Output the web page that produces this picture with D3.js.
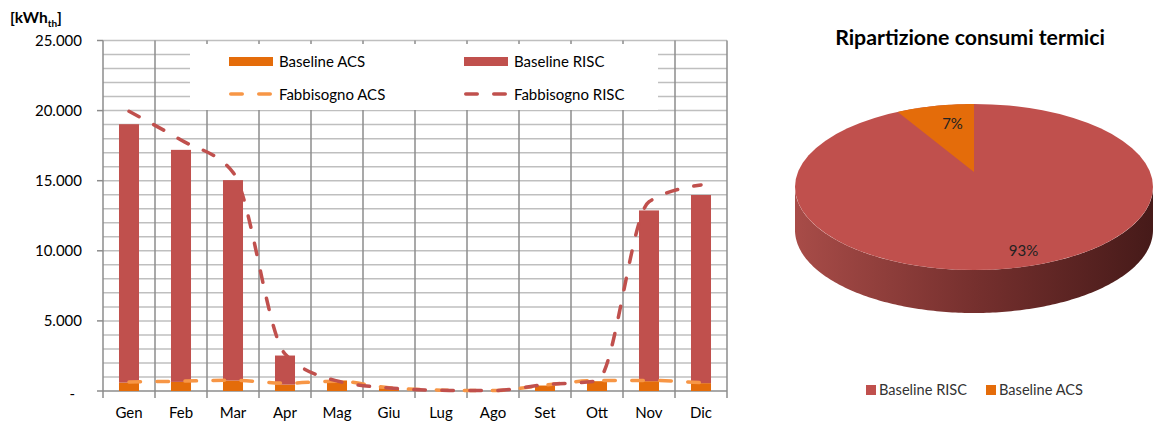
<!DOCTYPE html>
<html>
<head>
<meta charset="utf-8">
<script src="https://cdn.jsdelivr.net/npm/d3@7"></script>
<style>
  body { margin: 0; background: #fff; }
  svg { display: block; font-family: Lato, "Open Sans", sans-serif; }
</style>
</head>
<body>
<svg id="chart" width="1156" height="424"></svg>
<script>
// Monthly thermal consumption (kWh_th)
const months = ["Gen", "Feb", "Mar", "Apr", "Mag", "Giu", "Lug", "Ago", "Set", "Ott", "Nov", "Dic"];
const baselineACS  = [600, 650, 750, 460, 750, 200, 0, 0, 390, 700, 700, 560];
const baselineRISC = [18430, 16550, 14290, 2070, 0, 0, 0, 0, 0, 0, 12180, 13420];
const fabbisognoACS  = [640, 700, 770, 560, 700, 230, 60, 30, 420, 750, 750, 590];
const fabbisognoRISC = [19950, 17900, 15600, 2650, 720, 220, 50, 30, 450, 720, 13500, 14700];
const yTicks = [0, 5000, 10000, 15000, 20000, 25000];

// Share of annual consumption (%)
const pieLabels = ["Baseline RISC", "Baseline ACS"];
const pieValues = [93, 7];

const colACS = "#E46C0A", colRISC = "#C0504D", colFabACS = "#F79646", colFabRISC = "#C0504D";

const svg = d3.select("#chart");

// ---------- column chart ----------
const plot = { left: 103, right: 727, top: 40.5, bottom: 391 };
const x = d3.scaleBand().domain(months).range([plot.left, plot.right]);
const y = d3.scaleLinear().domain([0, 25000]).range([plot.bottom, plot.top]);
const barW = x.bandwidth() * 0.385;

const itFmt = d3.formatLocale({ decimal: ",", thousands: ".", grouping: [3], currency: ["€", ""] }).format(",");

const grid = svg.append("g");
// horizontal grid every 1.000
grid.selectAll("line.h").data(d3.range(1000, 25001, 1000)).join("line")
  .attr("x1", plot.left).attr("x2", plot.right)
  .attr("y1", d => y(d)).attr("y2", d => y(d))
  .attr("stroke", "#BFBFBF").attr("stroke-width", 1.5);
// vertical grid at category boundaries (continuing as tick marks)
const bounds = months.map(m => x(m)).concat([plot.right]);
grid.selectAll("line.v").data(bounds).join("line")
  .attr("x1", d => d).attr("x2", d => d)
  .attr("y1", plot.top).attr("y2", plot.bottom + 7)
  .attr("stroke", "#8C8C8C").attr("stroke-width", 1.5);
// axes
grid.append("line").attr("x1", plot.left).attr("x2", plot.right)
  .attr("y1", plot.bottom).attr("y2", plot.bottom).attr("stroke", "#8C8C8C").attr("stroke-width", 1.5);
grid.selectAll("line.yt").data(yTicks).join("line")
  .attr("x1", plot.left - 6).attr("x2", plot.left)
  .attr("y1", d => y(d)).attr("y2", d => y(d))
  .attr("stroke", "#8C8C8C").attr("stroke-width", 1.5);

// y tick labels
svg.append("g").selectAll("text").data(yTicks).join("text")
  .attr("x", d => d === 0 ? 75 : 82)
  .attr("y", d => y(d)).attr("dy", d => d === 0 ? "0.55em" : "0.36em")
  .attr("text-anchor", "end").attr("font-size", 15).attr("fill", "#000")
  .text(d => d === 0 ? "-" : itFmt(d));

// y title
const yt = svg.append("text").attr("x", 10).attr("y", 23).attr("font-size", 15.5).attr("font-weight", "bold");
yt.append("tspan").text("[kWh");
yt.append("tspan").attr("font-size", 10).attr("dy", 4).text("th");
yt.append("tspan").attr("dy", -4).text("]");

// x labels
svg.append("g").selectAll("text").data(months).join("text")
  .attr("x", d => x(d) + x.bandwidth() / 2).attr("y", 418)
  .attr("text-anchor", "middle").attr("font-size", 15).text(d => d);

// stacked columns
const rows = months.map((m, i) => ({ month: m, acs: baselineACS[i], risc: baselineRISC[i] }));
const stack = d3.stack().keys(["acs", "risc"])(rows);
const barCol = { acs: colACS, risc: colRISC };
svg.append("g").selectAll("g").data(stack).join("g")
  .attr("fill", s => barCol[s.key])
  .selectAll("rect").data(s => s).join("rect")
  .attr("x", d => x(d.data.month) + (x.bandwidth() - barW) / 2)
  .attr("width", barW)
  .attr("y", d => y(d[1]))
  .attr("height", d => y(d[0]) - y(d[1]));

// smoothed dashed lines
const line = d3.line()
  .x((d, i) => x(months[i]) + x.bandwidth() / 2)
  .y(d => y(d))
  .curve(d3.curveMonotoneX);
const dash = "11.5 16.5";
[[fabbisognoACS, colFabACS], [fabbisognoRISC, colFabRISC]].forEach(([vals, c]) => {
  svg.append("path").attr("d", line(vals)).attr("fill", "none")
    .attr("stroke", c).attr("stroke-width", 3.5)
    .attr("stroke-linecap", "round").attr("stroke-dasharray", dash);
});

// legend
const lg = svg.append("g");
lg.append("rect").attr("x", 190).attr("y", 44).attr("width", 468).attr("height", 66).attr("fill", "#fff");
const legendItems = [
  { label: "Baseline ACS", type: "bar", color: colACS, x: 229, y: 61.5 },
  { label: "Baseline RISC", type: "bar", color: colRISC, x: 464, y: 61.5 },
  { label: "Fabbisogno ACS", type: "line", color: colFabACS, x: 229, y: 94 },
  { label: "Fabbisogno RISC", type: "line", color: colFabRISC, x: 464, y: 94 }
];
legendItems.forEach(it => {
  if (it.type === "bar") {
    lg.append("rect").attr("x", it.x).attr("y", it.y - 4.5).attr("width", 44).attr("height", 9).attr("fill", it.color);
  } else {
    lg.append("line").attr("x1", it.x + 1.75).attr("x2", it.x + 44).attr("y1", it.y).attr("y2", it.y)
      .attr("stroke", it.color).attr("stroke-width", 3.5).attr("stroke-linecap", "round")
      .attr("stroke-dasharray", dash);
  }
  lg.append("text").attr("x", it.x + 50).attr("y", it.y + 5.5).attr("font-size", 15).text(it.label);
});

// ---------- 3D pie ----------
const pc = { cx: 974, cy: 187, rx: 179, ry: 83, depth: 43, apexLift: 15 };
svg.append("text").attr("x", 970).attr("y", 45).attr("text-anchor", "middle")
  .attr("font-size", 21.3).attr("font-weight", "bold").text("Ripartizione consumi termici");

const defs = svg.append("defs");
const grad = defs.append("linearGradient").attr("id", "side").attr("x1", 0).attr("x2", 1).attr("y1", 0).attr("y2", 0);
grad.append("stop").attr("offset", "0%").attr("stop-color", "#A84C48");
grad.append("stop").attr("offset", "50%").attr("stop-color", "#76302E");
grad.append("stop").attr("offset", "100%").attr("stop-color", "#461A19");

const pt = (a, dy = 0) => [pc.cx + pc.rx * Math.sin(a), pc.cy - pc.ry * Math.cos(a) + dy];
const arcs = d3.pie().sort(null).startAngle(0).endAngle(2 * Math.PI)(pieValues);

// side wall (front half of the disc)
const sidePts = d3.range(0, 181).map(k => Math.PI / 2 + k * Math.PI / 180);
let dSide = `M${pt(sidePts[0]).join(",")}`;
sidePts.forEach(a => { dSide += `L${pt(a).join(",")}`; });
sidePts.slice().reverse().forEach(a => { dSide += `L${pt(a, pc.depth).join(",")}`; });
dSide += "Z";
svg.append("path").attr("d", dSide).attr("fill", "url(#side)");

// top face
const pieCol = [colRISC, colACS];
arcs.forEach((a, i) => {
  if (i === 0) {
    // the largest slice fills the whole face, the others sit on it
    svg.append("ellipse").attr("cx", pc.cx).attr("cy", pc.cy).attr("rx", pc.rx).attr("ry", pc.ry).attr("fill", pieCol[i]);
  } else {
    const steps = d3.range(a.startAngle, a.endAngle, Math.PI / 180).concat([a.endAngle]);
    let d = `M${pc.cx},${pc.cy - pc.apexLift}`;
    steps.forEach(t => { d += `L${pt(t).join(",")}`; });
    d += "Z";
    svg.append("path").attr("d", d).attr("fill", pieCol[i]);
  }
});

// percentage labels
const labelNudge = [[28, 0], [0, 0]];
arcs.forEach((a, i) => {
  const mid = (a.startAngle + a.endAngle) / 2;
  const lx = pc.cx + pc.rx * 0.55 * Math.sin(mid) + labelNudge[i][0];
  const ly = pc.cy - pc.ry * 0.78 * Math.cos(mid) + labelNudge[i][1];
  svg.append("text").attr("x", lx).attr("y", ly).attr("dy", "0.36em")
    .attr("text-anchor", "middle").attr("font-size", 15).attr("fill", "#222")
    .text(pieValues[i] + "%");
});

// pie legend
const pl = svg.append("g");
[{ x: 866 }, { x: 986 }].forEach((p, i) => {
  pl.append("rect").attr("x", p.x).attr("y", 385).attr("width", 10).attr("height", 10).attr("fill", pieCol[i]);
  pl.append("text").attr("x", p.x + 13).attr("y", 395).attr("font-size", 14.6).attr("fill", "#333").text(pieLabels[i]);
});
</script>
</body>
</html>
